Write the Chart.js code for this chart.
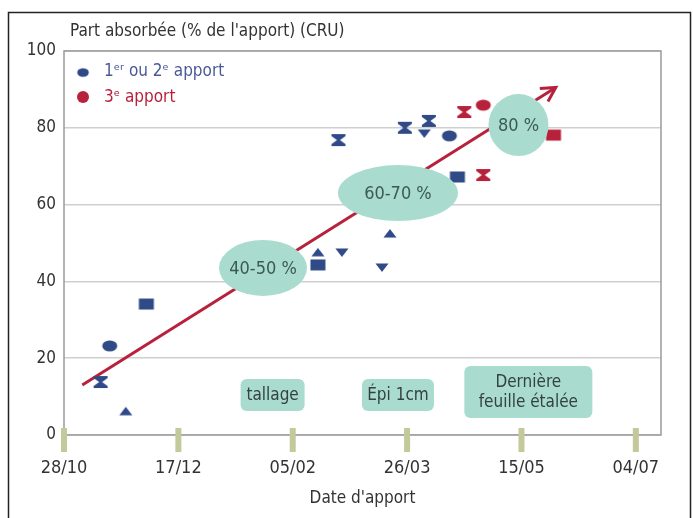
<!DOCTYPE html>
<html>
<head>
<meta charset="utf-8">
<script src="https://cdn.jsdelivr.net/npm/chart.js@4.4.1/dist/chart.umd.min.js"></script>
<style>
  html, body { margin: 0; padding: 0; background: #fff; }
  #wrap { width: 693px; height: 518px; position: relative; }
</style>
</head>
<body>
<div id="wrap"><canvas id="chart" width="693" height="518"></canvas></div>
<script>
// x = days since 28/10
const xTickLabels = ["28/10", "17/12", "05/02", "26/03", "15/05", "04/07"];
const xTickDays = [0, 50, 100, 150, 200, 250];
const yTicks = [0, 20, 40, 60, 80, 100];

// 1er ou 2e apport (blue)
const blueDays   = [20, 36, 16, 27, 111, 111, 121.5, 142.5, 139, 120, 149, 159.5, 157.5, 168.5, 172];
const blueValues = [23.2, 34.1, 13.8, 6.3, 47.7, 44.3, 47.4, 52.6, 43.5, 76.8, 80, 81.8, 78.4, 77.9, 67.2];
const blueShapes = ["ellipse", "rect", "hourglass", "triUp", "triUp", "rect", "triDown", "triUp", "triDown",
                    "hourglass", "hourglass", "hourglass", "triDown", "ellipse", "rect"];

// 3e apport (red)
const redDays   = [175, 183.3, 183.3, 214];
const redValues = [84.1, 85.9, 67.7, 78.1];
const redShapes = ["hourglass", "ellipse", "hourglass", "rect"];

// trend arrow
const trendDays   = [8, 215];
const trendValues = [13, 90.5];

// percentage bubbles
const bubbleLabels = ["40-50 %", "60-70 %", "80 %"];
const bubbleDays   = [87, 146, 198.7];
const bubbleValues = [43.5, 63, 80.7];

// stage boxes
const stageLabels = [["tallage"], ["Épi 1cm"], ["Dernière", "feuille étalée"]];
const stageDays   = [91.2, 146, 203];
const stageValues = [10.4, 10.4, 11.2];

const BLUE = "#2f4a87";
const RED = "#b8213b";
const MINT = "#a9dccf";
const FONT = "'DejaVu Sans Condensed', 'Roboto', 'Liberation Sans', sans-serif";

// ✅ Build marker images
function makeMarker(shape, color) {
    const c = document.createElement("canvas");
    c.width = 18; c.height = 14;
    const g = c.getContext("2d");
    g.fillStyle = color;
    g.beginPath();
    if (shape === "ellipse") {
        g.ellipse(9, 7, 7.5, 5.5, 0, 0, Math.PI * 2);
    } else if (shape === "rect") {
        g.rect(1.5, 1.5, 15, 11);
    } else if (shape === "triUp") {
        g.moveTo(2.5, 11.5); g.lineTo(9, 3); g.lineTo(15.5, 11.5);
    } else if (shape === "triDown") {
        g.moveTo(2.5, 2.5); g.lineTo(9, 11); g.lineTo(15.5, 2.5);
    } else if (shape === "hourglass") {
        g.moveTo(2, 1); g.lineTo(16, 1); g.lineTo(16, 3); g.lineTo(10.5, 7);
        g.lineTo(16, 11); g.lineTo(16, 13); g.lineTo(2, 13); g.lineTo(2, 11);
        g.lineTo(7.5, 7); g.lineTo(2, 3);
    }
    g.closePath();
    g.fill();
    return c;
}

const blueStyles = blueShapes.map(s => makeMarker(s, BLUE));
const redStyles = redShapes.map(s => makeMarker(s, RED));

// ✅ Decorations drawn through the scales
const decorPlugin = {
    id: "decor",
    beforeDraw(chart) {
        const ctx = chart.ctx;
        ctx.save();
        ctx.fillStyle = "#fff";
        ctx.fillRect(0, 0, chart.width, chart.height);
        // outer frame
        ctx.strokeStyle = "#222";
        ctx.lineWidth = 1.5;
        ctx.strokeRect(8.5, 12.5, 682, 520);
        ctx.restore();
    },
    beforeDatasetsDraw(chart) {
        const ctx = chart.ctx;
        const a = chart.chartArea;
        const xs = chart.scales.x, ys = chart.scales.y;
        ctx.save();
        // plot border
        ctx.strokeStyle = "#9a9a9a";
        ctx.lineWidth = 1.5;
        ctx.strokeRect(a.left, a.top, a.right - a.left, a.bottom - a.top);
        // olive ticks
        ctx.fillStyle = "#c3c99a";
        xTickDays.forEach(d => {
            const px = xs.getPixelForValue(d);
            ctx.fillRect(px - 3, a.bottom - 7, 6, 24);
        });
        // stage boxes
        ctx.font = "17px " + FONT;
        ctx.textAlign = "center";
        ctx.textBaseline = "middle";
        const boxW = [64, 72, 128];
        stageLabels.forEach((lines, i) => {
            const cx = xs.getPixelForValue(stageDays[i]);
            const cy = ys.getPixelForValue(stageValues[i]);
            const w = boxW[i];
            const h = lines.length * 20 + 12;
            ctx.fillStyle = MINT;
            ctx.beginPath();
            ctx.roundRect(cx - w / 2, cy - h / 2, w, h, 6);
            ctx.fill();
            ctx.fillStyle = "#33413f";
            lines.forEach((l, j) => ctx.fillText(l, cx, cy + 1 - (lines.length - 1) * 10 + j * 20));
        });
        ctx.restore();
    },
    afterDatasetsDraw(chart) {
        const ctx = chart.ctx;
        const xs = chart.scales.x, ys = chart.scales.y;
        ctx.save();
        // arrow head
        const x0 = xs.getPixelForValue(trendDays[0]), y0 = ys.getPixelForValue(trendValues[0]);
        const x1 = xs.getPixelForValue(trendDays[1]), y1 = ys.getPixelForValue(trendValues[1]);
        const ang = Math.atan2(y1 - y0, x1 - x0);
        ctx.strokeStyle = RED;
        ctx.lineWidth = 3;
        ctx.beginPath();
        ctx.moveTo(x1 - 16 * Math.cos(ang - 0.5), y1 - 16 * Math.sin(ang - 0.5));
        ctx.lineTo(x1, y1);
        ctx.lineTo(x1 - 16 * Math.cos(ang + 0.5), y1 - 16 * Math.sin(ang + 0.5));
        ctx.stroke();
        // bubbles
        const sizes = [[44, 28], [60, 28], [30, 31]];
        ctx.font = "18px " + FONT;
        ctx.textAlign = "center";
        ctx.textBaseline = "middle";
        bubbleLabels.forEach((label, i) => {
            const cx = xs.getPixelForValue(bubbleDays[i]);
            const cy = ys.getPixelForValue(bubbleValues[i]);
            ctx.fillStyle = MINT;
            ctx.beginPath();
            ctx.ellipse(cx, cy, sizes[i][0], sizes[i][1], 0, 0, Math.PI * 2);
            ctx.fill();
            ctx.fillStyle = "#3c5a55";
            ctx.fillText(label, cx, cy + 1);
        });
        // legend
        const a = chart.chartArea;
        ctx.textAlign = "left";
        ctx.font = "17px " + FONT;
        ctx.drawImage(makeMarker("ellipse", BLUE), a.left + 12, a.top + 16, 14, 11);
        ctx.fillStyle = "#4a5a98";
        ctx.fillText("1ᵉʳ ou 2ᵉ apport", a.left + 40, a.top + 21);
        ctx.fillStyle = RED;
        ctx.beginPath();
        ctx.arc(a.left + 19, a.top + 46, 6, 0, Math.PI * 2);
        ctx.fill();
        ctx.fillStyle = "#b8213b";
        ctx.fillText("3ᵉ apport", a.left + 40, a.top + 47);
        // y title
        ctx.fillStyle = "#333";
        ctx.font = "17px " + FONT;
        ctx.fillText("Part absorbée (% de l'apport) (CRU)", a.left + 6, 32);
        ctx.restore();
    }
};

new Chart(document.getElementById("chart").getContext("2d"), {
    type: "scatter",
    data: {
        datasets: [
            {
                label: "tendance",
                type: "line",
                data: trendDays.map((d, i) => ({ x: d, y: trendValues[i] })),
                borderColor: RED,
                borderWidth: 3,
                pointRadius: 0,
                fill: false,
                order: 3
            },
            {
                label: "1er ou 2e apport",
                data: blueDays.map((d, i) => ({ x: d, y: blueValues[i] })),
                pointStyle: blueStyles,
                order: 1
            },
            {
                label: "3e apport",
                data: redDays.map((d, i) => ({ x: d, y: redValues[i] })),
                pointStyle: redStyles,
                order: 2
            }
        ]
    },
    options: {
        responsive: false,
        animation: false,
        layout: { padding: { left: 20, right: 32, top: 51, bottom: 0 } },
        plugins: {
            legend: { display: false },
            tooltip: { enabled: false }
        },
        scales: {
            x: {
                type: "linear",
                min: 0,
                max: 261,
                afterBuildTicks: s => { s.ticks = xTickDays.map(v => ({ value: v })); },
                afterFit: s => { s.height = 83; s.paddingLeft = 0; s.paddingRight = 0; },
                grid: { display: false },
                border: { display: false },
                ticks: {
                    padding: 15,
                    color: "#333",
                    font: { family: FONT, size: 18 },
                    callback: v => xTickLabels[xTickDays.indexOf(v)]
                },
                title: {
                    display: true,
                    text: "Date d'apport",
                    color: "#333",
                    font: { family: FONT, size: 17 },
                    padding: { top: 2, bottom: 9 }
                }
            },
            y: {
                min: 0,
                max: 100,
                afterFit: s => { s.width = 44; },
                afterBuildTicks: s => { s.ticks = yTicks.map(v => ({ value: v })); },
                grid: { color: "#cfcfcf", lineWidth: 1.5, drawTicks: false },
                border: { display: false },
                ticks: {
                    padding: 8,
                    color: "#333",
                    font: { family: FONT, size: 17 }
                }
            }
        }
    },
    plugins: [decorPlugin]
});
</script>
</body>
</html>
